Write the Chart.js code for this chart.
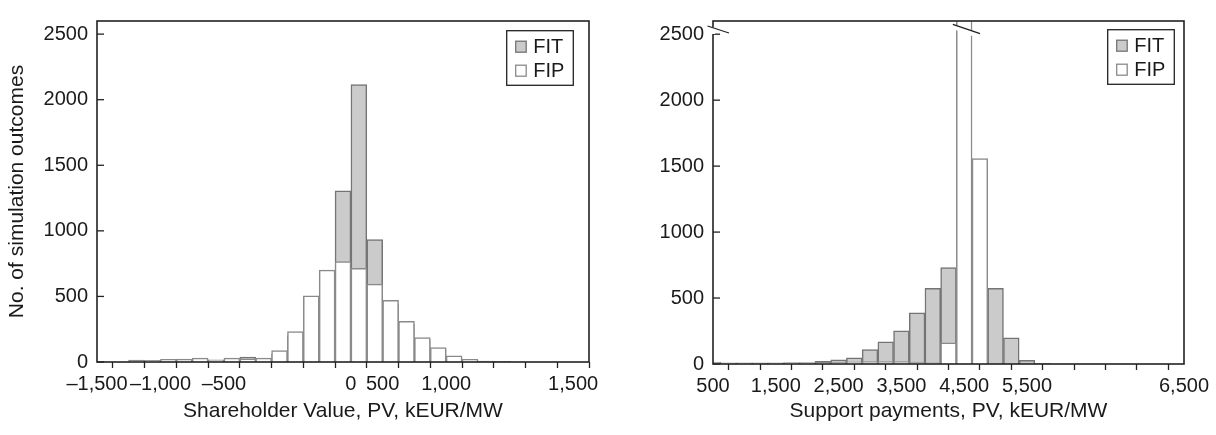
<!DOCTYPE html>
<html><head><meta charset="utf-8">
<script src="https://cdn.jsdelivr.net/npm/chart.js@4.4.1/dist/chart.umd.min.js"></script>
<style>
html,body{margin:0;padding:0;background:#fff;}
#wrap{position:relative;width:1216px;height:435px;overflow:hidden;}
.box{position:absolute;top:0;width:608px;height:435px;}
</style></head><body>
<div id="wrap">
<div class="box" style="left:0"><canvas id="c1" width="608" height="435"></canvas></div>
<div class="box" style="left:608px"><canvas id="c2" width="608" height="435"></canvas></div>
</div>
<script>
// ---------- data ----------
const yTickValues = [0, 500, 1000, 1500, 2000, 2500];

const leftTickPos = [0, 2, 4, 8, 9, 11, 15];
const leftTickLabels = ['–1,500', '–1,000', '–500', '0', '500', '1,000', '1,500'];
const rightTickPos = [0, 2, 4, 6, 8, 10, 15];
const rightTickLabels = ['500', '1,500', '2,500', '3,500', '4,500', '5,500', '6,500'];

// bin centres in axis tick units
const leftBins = [1.25, 1.75, 2.25, 2.75, 3.25, 3.75, 4.25, 4.75, 5.25, 5.75, 6.25, 6.75,
                  7.25, 7.75, 8.25, 8.75, 9.25, 9.75, 10.25, 10.75, 11.25, 11.75, 12.25, 12.75, 13.25];
const leftFIT = [14, 11, 15, 15, 20, 12, 22, 38, 20, 60, 200, 450,
                 650, 1306, 2116, 933, 440, 290, 170, 100, 40, 15, 7, 6, 0];
const leftFIP = [12, 10, 20, 22, 30, 17, 30, 25, 30, 87, 231, 505,
                 701, 766, 714, 594, 470, 311, 187, 109, 47, 20, 4, 3, 0];

const rightBins = [0, 0.5, 1, 1.5, 2, 2.5, 3, 3.5, 4, 4.5, 5, 5.5, 6, 6.5, 7, 7.5,
                   8, 8.5, 9, 9.5, 10, 10.5, 11];
const rightFIT = [0, 0, 0, 0, 0, 3, 5, 20, 32, 47, 109, 168, 252, 388, 574, 730,
                  0, 0, 574, 198, 27, 5, 0];
const rightFIP = [15, 8, 8, 8, 8, 10, 10, 12, 15, 17, 18, 18, 18, 15, 8, 161,
                  3000, 1558, 0, 0, 0, 0, 0];

// ---------- styling ----------
const FAMILY = '"Liberation Sans",Arial,Helvetica,sans-serif';
const TICK_FONT = {family: FAMILY, size: 20};
const XTITLE_FONT = {family: FAMILY, size: 21};
const YTITLE_FONT = {family: FAMILY, size: 21};
const LEGEND_FONT = '20px "Liberation Sans", Arial, sans-serif';
const INK = '#1a1a1a';

const decoPlugin = {
  id: 'deco',
  afterDatasetsDraw(chart, args, o) {
    const {ctx, chartArea: a} = chart;
    const y = chart.scales.y;
    ctx.save();
    // inward y ticks
    ctx.strokeStyle = '#222';
    ctx.lineWidth = 1.3;
    y.ticks.forEach(t => {
      const py = y.getPixelForValue(t.value);
      ctx.beginPath(); ctx.moveTo(a.left, py); ctx.lineTo(a.left + 7, py); ctx.stroke();
    });
    // frame
    ctx.lineWidth = 1.6;
    ctx.strokeRect(a.left, a.top, a.right - a.left, a.bottom - a.top);

    if (o.breaks) {
      // broken bars
      const ds = chart.data.datasets[1];
      const meta = chart.getDatasetMeta(1);
      meta.data.forEach((el, i) => {
        if (ds.data[i].y > y.max) {
          const p = el.getProps(['x', 'width'], true);
          const x0 = p.x - p.width / 2 - 3.5, x1 = p.x + p.width / 2 + 8;
          const y0 = a.top + 3.3, y1 = a.top + 12.7;
          ctx.fillStyle = '#fff';
          ctx.beginPath();
          ctx.moveTo(x0 + 2, y0 + 0.8); ctx.lineTo(x1 - 4, y1 - 1.2);
          ctx.lineTo(x1 - 4, y1 + 3.5); ctx.lineTo(x0 + 2, y0 + 5.5); ctx.closePath(); ctx.fill();
          ctx.strokeStyle = '#222'; ctx.lineWidth = 1.3;
          ctx.beginPath(); ctx.moveTo(x0, y0); ctx.lineTo(x1, y1); ctx.stroke();
        }
      });
      // broken y axis
      ctx.fillStyle = '#fff';
      ctx.fillRect(a.left - 2, a.top + 6.5, 4, 6.5);
      ctx.strokeStyle = '#222'; ctx.lineWidth = 1.3;
      ctx.beginPath(); ctx.moveTo(a.left - 5.5, a.top + 5); ctx.lineTo(a.left + 16, a.top + 12); ctx.stroke();
    }

    // legend
    const lg = o.legend;
    const bx = a.right - lg.r - lg.w, by = a.top + lg.t;
    ctx.fillStyle = '#fff'; ctx.fillRect(bx, by, lg.w, lg.h);
    ctx.strokeStyle = '#222'; ctx.lineWidth = 1.3; ctx.strokeRect(bx, by, lg.w, lg.h);
    chart.data.datasets.forEach((d, i) => {
      const cy = by + 16 + i * 24;
      ctx.fillStyle = d.backgroundColor; ctx.fillRect(bx + 9, cy - 5.5, 10.5, 11);
      ctx.strokeStyle = d.borderColor; ctx.lineWidth = 1.3; ctx.strokeRect(bx + 9, cy - 5.5, 10.5, 11);
      ctx.fillStyle = INK; ctx.font = LEGEND_FONT; ctx.textBaseline = 'middle'; ctx.textAlign = 'left';
      ctx.fillText(d.label, bx + 26.6, cy + 1);
    });
    ctx.restore();
  }
};

const xTickMarks = [];
for (let i = 0; i <= 15; i++) xTickMarks.push(i);

function makeChart(id, bins, fit, fip, tickPos, tickLabels, o) {
  return new Chart(document.getElementById(id), {
    type: 'bar',
    data: {
      datasets: [
        {label: 'FIT', data: bins.map((x, i) => ({x, y: fit[i]})), backgroundColor: '#cbcbcb',
         borderColor: '#747474', borderWidth: 1.5, grouped: false, order: 2,
         barPercentage: 1, categoryPercentage: 1},
        {label: 'FIP', data: bins.map((x, i) => ({x, y: fip[i]})), backgroundColor: '#ffffff',
         borderColor: '#8a8a8a', borderWidth: 1.5, grouped: false, order: 1,
         barPercentage: 1, categoryPercentage: 1}
      ]
    },
    options: {
      responsive: false, animation: false, devicePixelRatio: 1,
      layout: {padding: {top: o.top, right: o.right, left: 0, bottom: 0}},
      plugins: {legend: {display: false}, tooltip: {enabled: false},
                deco: {breaks: o.breaks, legend: o.legend}},
      scales: {
        x: {
          type: 'linear', min: o.xmin, max: o.xmax, offset: false,
          afterBuildTicks: s => { s.ticks = xTickMarks.map(v => ({value: v})); },
          afterFit: s => { s.height = o.xh; },
          grid: {display: true, drawOnChartArea: false, drawTicks: true, tickLength: 6, tickColor: '#222', color: '#222', tickWidth: 1.3},
          border: {display: false},
          ticks: {autoSkip: false, maxRotation: 0, minRotation: 0, padding: 4, color: INK, font: TICK_FONT,
                  callback: v => { const i = tickPos.indexOf(v); return i >= 0 ? tickLabels[i] : ''; }},
          title: {display: true, text: o.xTitle, color: INK, font: XTITLE_FONT, padding: {top: 0, bottom: 11}}
        },
        y: {
          min: 0, max: 2600,
          afterBuildTicks: s => { s.ticks = yTickValues.map(v => ({value: v})); },
          afterFit: s => { s.width = o.yw; },
          grid: {display: false, drawTicks: false},
          border: {display: false},
          ticks: {padding: 9, color: INK, font: TICK_FONT, callback: v => String(v)},
          title: {display: !!o.yTitle, text: o.yTitle || '', color: INK, font: YTITLE_FONT, padding: {top: 5, bottom: 0}}
        }
      }
    },
    plugins: [decoPlugin]
  });
}

makeChart('c1', leftBins, leftFIT, leftFIP, leftTickPos, leftTickLabels, {
  top: 13, right: 19, xh: 73, yw: 97, xmin: 0, xmax: 15.5,
  xTitle: 'Shareholder Value, PV, kEUR/MW', yTitle: 'No. of simulation outcomes',
  breaks: false, legend: {r: 15.7, t: 9.7, w: 66.6, h: 54.6}
});
makeChart('c2', rightBins, rightFIT, rightFIP, rightTickPos, rightTickLabels, {
  top: 14, right: 32, xh: 71, yw: 105, xmin: 0, xmax: 15,
  xTitle: 'Support payments, PV, kEUR/MW', yTitle: null,
  breaks: true, legend: {r: 9.7, t: 8.7, w: 66.6, h: 54.6}
});
</script>
</body></html>
